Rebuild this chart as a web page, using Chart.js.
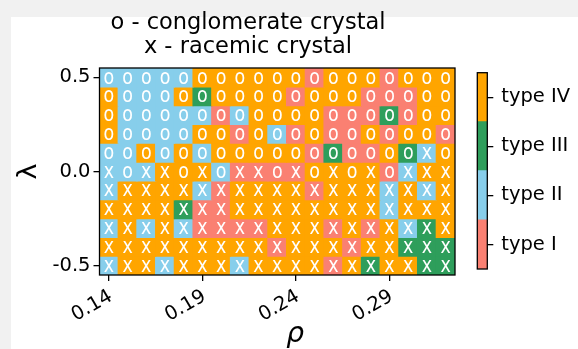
<!DOCTYPE html>
<html><head><meta charset="utf-8">
<script src="https://cdn.jsdelivr.net/npm/chart.js@4/dist/chart.umd.min.js"></script>
<style>
html,body{margin:0;padding:0;background:#f1f1f1;width:578px;height:349px;overflow:hidden;}
#paper{position:absolute;left:11px;top:17px;width:567px;height:332px;background:#fff;}
#main{position:absolute;left:0;top:0;}
#cbar{position:absolute;left:460px;top:50px;}
</style></head><body>
<div id="paper"></div>
<canvas id="main" width="486" height="349"></canvas>
<canvas id="cbar" width="118" height="240"></canvas>
<script>
// ---- data ----
const rhos = [0.14,0.15,0.16,0.17,0.18,0.19,0.20,0.21,0.22,0.23,0.24,0.25,0.26,0.27,0.28,0.29,0.30,0.31,0.32];
const lambdas = [0.5,0.4,0.3,0.2,0.1,0.0,-0.1,-0.2,-0.3,-0.4,-0.5];
const xTicks = [0.14,0.19,0.24,0.29];
const yTicks = [-0.5,0.0,0.5];
const titleLines = ['o - conglomerate crystal','x - racemic crystal'];
const typeNames = ['type I','type II','type III','type IV'];
// cell type (1=I, 2=II, 3=III, 4=IV) for each λ row, ρ left to right
const typesL05  = [2,2,2,2,2,4,4,4,4,4,4,1,4,4,4,1,4,4,4];
const typesL04  = [4,2,2,2,4,3,4,4,4,4,1,4,4,4,1,1,1,4,4];
const typesL03  = [4,2,2,2,2,2,1,2,4,4,4,4,1,1,1,3,1,4,4];
const typesL02  = [4,2,2,2,2,4,4,1,4,2,1,4,1,1,4,1,4,4,1];
const typesL01  = [2,2,4,2,4,2,4,4,4,4,4,1,3,1,1,4,3,2,4];
const typesL00  = [2,2,2,4,4,4,2,1,1,1,1,4,4,4,4,1,2,4,4];
const typesLm01 = [2,4,4,4,4,2,1,4,4,4,4,1,4,4,4,2,4,2,4];
const typesLm02 = [4,4,4,4,3,1,1,4,4,4,4,4,4,4,4,2,4,4,4];
const typesLm03 = [2,4,2,4,2,1,1,1,1,4,4,4,1,4,1,4,2,3,4];
const typesLm04 = [4,4,4,4,4,4,4,4,4,1,4,4,4,1,4,4,3,3,3];
const typesLm05 = [2,4,4,2,4,4,4,2,4,4,4,4,1,4,3,4,4,3,3];
const typeRows = [typesL05,typesL04,typesL03,typesL02,typesL01,typesL00,typesLm01,typesLm02,typesLm03,typesLm04,typesLm05];
// crystal marker for each cell: o = conglomerate, x = racemic
const markerRows = [
  'ooooooooooooooooooo',
  'ooooooooooooooooooo',
  'ooooooooooooooooooo',
  'ooooooooooooooooooo',
  'oooooooooooooooooxo',
  'xoxxoxoxxoxoxoxoxxx',
  'xxxxxxxxxxxxxxxxxxx',
  'xxxxxxxxxxxxxxxxxxx',
  'xxxxxxxxxxxxxxxxxxx',
  'xxxxxxxxxxxxxxxxxxx',
  'xxxxxxxxxxxxxxxxxxx'
];
const colorbarUnits = [1];

// ---- styling ----
const typeColors = {1:'#FA8072', 2:'#87CEEB', 3:'#2E9E5B', 4:'#FFA500'};
const FONT = 'DejaVu Sans';
Chart.defaults.font.family = FONT;
Chart.defaults.color = '#000';

const halfRow = Math.abs(lambdas[0]-lambdas[1])/2;
const halfCol = Math.abs(rhos[1]-rhos[0])/2;

const frame = {
  id:'frame',
  afterDatasetsDraw(chart){
    const ctx = chart.ctx, a = chart.chartArea;
    ctx.save();
    ctx.strokeStyle = '#000'; ctx.lineWidth = 1.3;
    ctx.strokeRect(a.left, a.top, a.right-a.left, a.bottom-a.top);
    ctx.restore();
  }
};
const cellMarks = {
  id:'cellMarks',
  afterDatasetsDraw(chart){
    const ctx = chart.ctx, size = 19;
    ctx.save();
    ctx.fillStyle = '#fff';
    ctx.font = size + 'px "' + FONT + '"';
    ctx.textAlign = 'center';
    ctx.textBaseline = 'alphabetic';
    chart.data.datasets.forEach((ds, r) => {
      chart.getDatasetMeta(r).data.forEach((el, c) => {
        const cy = (el.y + el.base)/2;
        ctx.save();
        ctx.translate(el.x, cy);
        ctx.scale(0.92, 1.15);
        ctx.fillText(markerRows[r][c], 0, 0.28*size);
        ctx.restore();
      });
    });
    ctx.restore();
  }
};

const tickGrid = {display:true, drawOnChartArea:false, drawTicks:true, tickLength:6, color:'#000', lineWidth:1.3, offset:false};

new Chart(document.getElementById('main'), {
  type:'bar',
  data:{
    datasets: lambdas.map((lam, r) => ({
      label: 'λ = ' + lam,
      data: rhos.map(rho => ({x: rho, y: [lam - halfRow, lam + halfRow]})),
      backgroundColor: typeRows[r].map(t => typeColors[t]),
      borderWidth:0,
      grouped:false,
      barPercentage:1,
      categoryPercentage:1,
      inflateAmount:0.6
    }))
  },
  options:{
    responsive:false, animation:false,
    layout:{padding:{left:10, top:0, right:0, bottom:0}},
    plugins:{
      legend:{display:false},
      tooltip:{enabled:false},
      title:{display:true, text:titleLines, color:'#000',
        font:{family:FONT, size:22.5, weight:'normal', lineHeight:24/22.5},
        padding:{top:11, bottom:9}}
    },
    scales:{
      x:{
        type:'linear', offset:false,
        min: rhos[0]-halfCol, max: rhos[rhos.length-1]+halfCol,
        afterBuildTicks: s => { s.ticks = xTicks.map(v => ({value:v})); },
        afterFit: s => { s.height = 74; },
        grid: tickGrid,
        border:{display:false},
        ticks:{color:'#000', font:{family:FONT, size:19.5}, minRotation:30, maxRotation:30,
          autoSkip:false, padding:4, labelOffset:2, callback: v => Number(v).toFixed(2)},
        title:{display:true, text:'    ρ', color:'#000',
          font:{family:FONT, size:28, style:'italic', lineHeight:1.0}, padding:{top:0, bottom:0}}
      },
      y:{
        type:'linear',
        min: lambdas[lambdas.length-1]-halfRow, max: lambdas[0]+halfRow,
        afterBuildTicks: s => { s.ticks = yTicks.map(v => ({value:v})); },
        afterFit: s => { s.width = 89.5; },
        grid: tickGrid,
        border:{display:false},
        ticks:{color:'#000', font:{family:FONT, size:19.5}, padding:3, callback: v => Number(v).toFixed(1)},
        title:{display:true, text:'λ', color:'#000',
          font:{family:FONT, size:27, lineHeight:1.2}, padding:{top:3, bottom:0}}
      },
      yR:{
        type:'linear', position:'right', display:true,
        grid:{display:false}, border:{display:false}, ticks:{display:false},
        afterFit: s => { s.width = 31; }
      }
    }
  },
  plugins:[cellMarks, frame]
});

new Chart(document.getElementById('cbar'), {
  type:'bar',
  data:{
    labels:[''],
    datasets: typeNames.map((name, i) => ({
      label:name, data:colorbarUnits, backgroundColor:typeColors[i+1],
      borderWidth:0, barPercentage:1, categoryPercentage:1, inflateAmount:0.5
    }))
  },
  options:{
    responsive:false, animation:false,
    layout:{padding:{left:17.3, top:22.7, right:0, bottom:21}},
    plugins:{legend:{display:false}, tooltip:{enabled:false}},
    scales:{
      x:{display:false, stacked:true},
      y:{
        stacked:true, position:'right', min:0, max:typeNames.length,
        afterBuildTicks: s => { s.ticks = typeNames.map((n, i) => ({value:i+0.5})); },
        afterFit: s => { s.width = 90.7; },
        grid: tickGrid,
        border:{display:false},
        ticks:{color:'#000', font:{family:FONT, size:19.5}, padding:8,
          callback: v => typeNames[Math.floor(v)]}
      }
    }
  },
  plugins:[frame]
});
</script>
</body></html>
